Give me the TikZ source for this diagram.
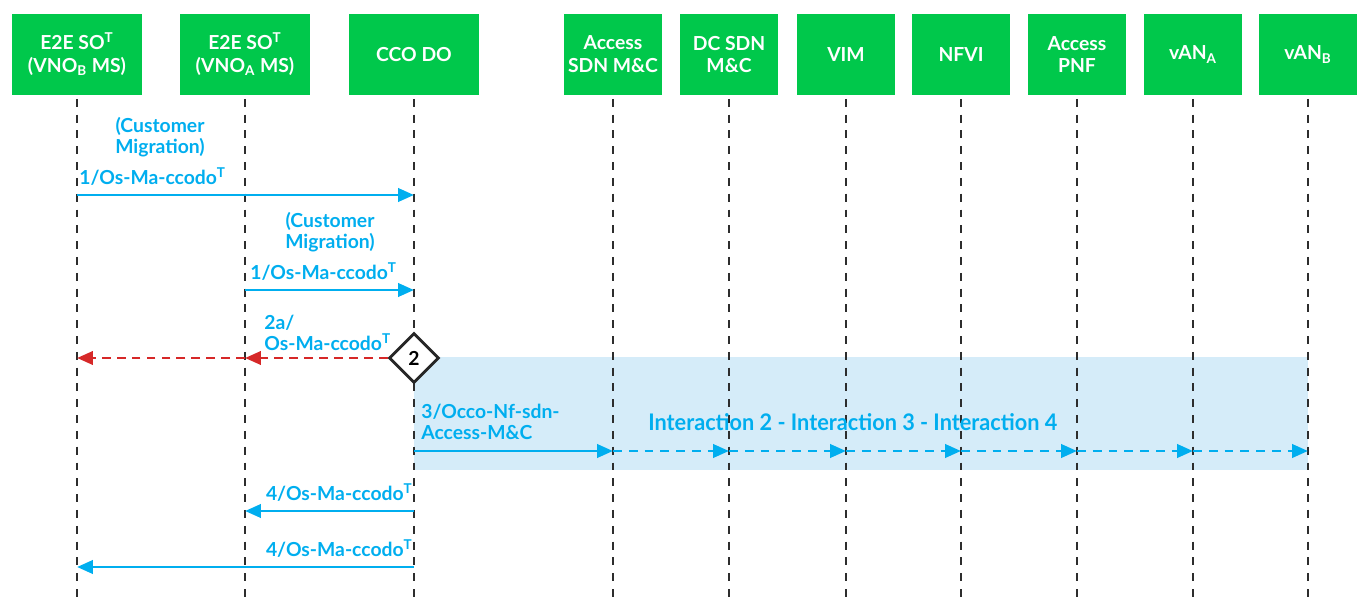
\documentclass[tikz,border=0pt]{standalone}
\usepackage{fontspec}
\setmainfont{Lato}
\usepackage{graphicx}
\usetikzlibrary{arrows.meta,shapes.geometric}

\definecolor{boxgreen}{RGB}{0,200,75}
\definecolor{msgblue}{RGB}{0,174,239}
\definecolor{msgred}{RGB}{214,40,40}
\definecolor{bandblue}{RGB}{213,236,249}
\definecolor{lifegray}{RGB}{45,45,45}

\tikzset{
  actor/.style={fill=boxgreen, text=white, font=\bfseries\fontsize{11}{13}\selectfont,
    align=center, minimum height=1.62cm, inner sep=0pt},
  wideactor/.style={actor, minimum width=2.62cm},
  slimactor/.style={actor, minimum width=1.96cm},
  lifeline/.style={lifegray, line width=1.6pt, dash pattern=on 4.5pt off 4.5pt},
  tip/.style={-{Triangle[length=9pt,width=7.5pt]}},
  msg/.style={msgblue, line width=1.7pt, tip},
  msgdash/.style={msg, dash pattern=on 5pt off 4pt},
  msgback/.style={msgred, line width=1.6pt, tip, dash pattern=on 5pt off 3.5pt},
  lbl/.style={text=msgblue, font=\bfseries\fontsize{11}{12}\selectfont, inner sep=0pt}
}

\begin{document}
\begin{tikzpicture}[x=0.02cm, y=-0.02cm]
\useasboundingbox (0,0) rectangle (1359,601);

% actors
\node [wideactor] (sob) at (77,54.5) {E2E SO\textsuperscript{T}\\(VNO\textsubscript{B} MS)};
\node [wideactor] (soa) at (245,54.5) {E2E SO\textsuperscript{T}\\(VNO\textsubscript{A} MS)};
\node [wideactor] (cco) at (414,54.5) {CCO DO};
\node [slimactor] (asdn) at (613,54.5) {Access\\SDN M\&C};
\node [slimactor] (dcsdn) at (729,54.5) {DC SDN\\M\&C};
\node [slimactor] (vim) at (846,54.5) {VIM};
\node [slimactor] (nfvi) at (961,54.5) {NFVI};
\node [slimactor] (apnf) at (1077,54.5) {Access\\PNF};
\node [slimactor] (vana) at (1193,54.5) {vAN\textsubscript{A}};
\node [slimactor] (vanb) at (1308,54.5) {vAN\textsubscript{B}};

% interaction band
\fill [bandblue] (cco |- 0,357) rectangle (vanb |- 0,470);

% lifelines
\foreach \a in {sob,soa,cco,asdn,dcsdn,vim,nfvi,apnf,vana,vanb}
  \draw [lifeline] ([yshift=-2pt]\a.south) -- (\a |- 0,601);

% step 1
\node [lbl, align=center] (cm1) at (160,137) {(Customer\\Migration)};
\node [lbl, anchor=west] (m1) at (79,177) {1/Os-Ma-ccodo\textsuperscript{T}};
\draw [msg] (sob |- 0,195) -- (cco |- 0,195);

\node [lbl, align=center] (cm2) at (330,232) {(Customer\\Migration)};
\node [lbl, anchor=west] (m1b) at (250,272) {1/Os-Ma-ccodo\textsuperscript{T}};
\draw [msg] (soa |- 0,290) -- (cco |- 0,290);

% step 2
\node [lbl, anchor=west, align=left] (m2a) at (264,333) {2a/\\Os-Ma-ccodo\textsuperscript{T}};
\node [diamond, draw=black!85, fill=white, line width=1.6pt, minimum size=1cm, inner sep=0pt,
  font=\bfseries\fontsize{11}{12}\selectfont] (dec) at (414,358) {2};
\draw [msgback] (dec.west) -- (soa |- 0,358);
\draw [msgback] (soa |- 0,358) -- (sob |- 0,358);

% step 3
\node [lbl, anchor=west, align=left] (m3) at (421,422) {3/Occo-Nf-sdn-\\Access-M\&C};
\node [lbl, anchor=west, font=\bfseries\fontsize{13}{15}\selectfont] (inter) at (648,422)
  {\scalebox{0.95}[1]{Interaction 2 - Interaction 3 - Interaction 4}};
\draw [msg] (dec |- 0,451) -- (asdn |- 0,451);
\foreach \a/\b in {asdn/dcsdn,dcsdn/vim,vim/nfvi,nfvi/apnf,apnf/vana,vana/vanb}
  \draw [msgdash] (\a |- 0,451) -- (\b |- 0,451);

% step 4
\node [lbl, anchor=east] (m4a) at (413,493) {4/Os-Ma-ccodo\textsuperscript{T}};
\draw [msg] (cco |- 0,511) -- (soa |- 0,511);
\node [lbl, anchor=east] (m4b) at (413,549) {4/Os-Ma-ccodo\textsuperscript{T}};
\draw [msg] (cco |- 0,567) -- (sob |- 0,567);
\end{tikzpicture}
\end{document}
